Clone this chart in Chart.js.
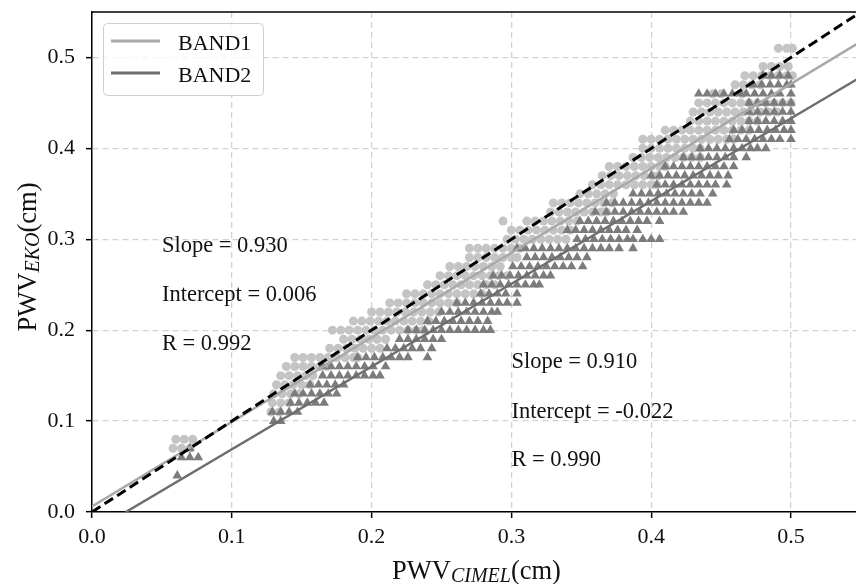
<!DOCTYPE html>
<html><head><meta charset="utf-8">
<script src="https://cdn.jsdelivr.net/npm/chart.js@4.4.0/dist/chart.umd.min.js"></script>
<style>html,body{margin:0;padding:0;background:#fff;overflow:hidden}canvas{display:block}</style>
</head><body>
<canvas id="c" width="856" height="584"></canvas>
<script>
// ---------------- data ----------------
const seriesNames = ['BAND1', 'BAND2'];
const xTickValues = [0.0, 0.1, 0.2, 0.3, 0.4, 0.5];
const yTickValues = [0.0, 0.1, 0.2, 0.3, 0.4, 0.5];

// each row: [PWV_EKO level, PWV_CIMEL values ...]
const band1Rows = [
  [0.07, 0.058,0.064,0.070],
  [0.08, 0.060,0.066,0.072],
  [0.11, 0.128,0.134],
  [0.12, 0.129,0.135,0.141],
  [0.13, 0.130,0.136,0.142,0.148],
  [0.14, 0.132,0.138,0.144,0.150,0.156],
  [0.15, 0.135,0.141,0.147,0.153,0.158],
  [0.16, 0.139,0.145,0.151,0.157,0.163,0.168],
  [0.17, 0.145,0.151,0.157,0.163,0.169,0.175,0.181,0.187,0.190],
  [0.18, 0.170,0.176,0.182,0.188,0.194,0.200,0.206],
  [0.19, 0.180,0.186,0.192,0.198,0.204,0.210],
  [0.20, 0.172,0.178,0.184,0.190,0.196,0.202,0.208,0.214,0.220,0.226,0.232,0.237],
  [0.21, 0.187,0.193,0.199,0.205,0.211,0.217,0.223,0.229,0.235,0.241],
  [0.22, 0.200,0.206,0.212,0.218,0.224,0.230,0.236,0.242,0.248],
  [0.23, 0.213,0.219,0.225,0.231,0.237,0.243,0.249,0.255,0.261],
  [0.24, 0.225,0.231,0.237,0.243,0.249,0.255,0.261,0.267,0.273,0.279],
  [0.25, 0.240,0.246,0.252,0.258,0.264,0.270,0.276,0.282,0.288],
  [0.26, 0.249,0.255,0.261,0.267,0.273,0.279,0.285,0.291,0.297],
  [0.27, 0.256,0.262,0.268,0.274,0.280,0.286,0.292],
  [0.28, 0.270,0.276,0.282,0.288,0.294,0.300,0.304],
  [0.29, 0.270,0.276,0.282,0.288,0.294,0.300,0.306],
  [0.30, 0.297,0.303,0.309,0.315,0.321,0.327,0.333,0.339],
  [0.31, 0.300,0.306,0.312,0.318,0.324,0.330,0.336,0.342],
  [0.32, 0.294,0.311,0.317,0.323,0.329,0.335,0.341,0.347],
  [0.33, 0.328,0.334,0.340,0.346,0.352,0.358,0.364,0.368],
  [0.34, 0.330,0.336,0.342,0.348,0.354,0.360,0.366,0.372],
  [0.35, 0.349,0.355,0.361,0.367,0.373],
  [0.36, 0.358,0.364,0.370,0.376,0.382,0.388,0.394,0.400,0.404],
  [0.37, 0.365,0.371,0.377,0.383,0.389,0.395,0.401,0.405],
  [0.38, 0.370,0.376,0.382,0.388,0.394,0.400,0.406,0.410],
  [0.39, 0.387,0.393,0.399,0.405,0.411,0.417,0.423,0.429,0.435],
  [0.40, 0.394,0.400,0.406,0.412,0.418,0.424,0.430,0.435],
  [0.41, 0.394,0.400,0.406,0.412,0.418,0.424,0.430,0.436,0.442,0.448,0.454,0.459],
  [0.42, 0.410,0.416,0.422,0.428,0.434,0.440,0.446,0.452,0.458,0.464,0.470],
  [0.43, 0.428,0.434,0.440,0.446,0.452,0.458,0.464,0.470,0.476],
  [0.44, 0.430,0.436,0.442,0.448,0.454,0.460,0.466,0.472,0.478,0.484,0.490],
  [0.45, 0.434,0.440,0.446,0.452,0.458,0.464,0.470,0.476,0.482,0.488,0.494,0.500],
  [0.46, 0.444,0.450,0.465],
  [0.47, 0.460,0.466,0.472,0.478],
  [0.48, 0.467,0.473,0.479,0.485,0.491,0.497,0.501],
  [0.49, 0.480,0.486,0.492,0.498],
  [0.51, 0.491,0.497,0.501]
];

const band2Rows = [
  [0.04, 0.061],
  [0.06, 0.064,0.070,0.076],
  [0.07, 0.070],
  [0.10, 0.130,0.135],
  [0.11, 0.129,0.135,0.141,0.147],
  [0.12, 0.142,0.148,0.154,0.160,0.166],
  [0.13, 0.145,0.151,0.157,0.163,0.169,0.175],
  [0.14, 0.156,0.162,0.168,0.174,0.180],
  [0.15, 0.165,0.171,0.177,0.183,0.189,0.195,0.201,0.206],
  [0.16, 0.165,0.171,0.177,0.183,0.189,0.195,0.201,0.210],
  [0.17, 0.190,0.196,0.202,0.208,0.214,0.220,0.226,0.240],
  [0.18, 0.211,0.217,0.223,0.229,0.235,0.243],
  [0.19, 0.220,0.226,0.232,0.238,0.244,0.250],
  [0.20, 0.226,0.232,0.238,0.244,0.250,0.256,0.262,0.268,0.274,0.280,0.285],
  [0.21, 0.240,0.246,0.252,0.258,0.264,0.270,0.276,0.283],
  [0.22, 0.250,0.256,0.262,0.268,0.274,0.280,0.286,0.290],
  [0.23, 0.261,0.267,0.273,0.279,0.285,0.291,0.297,0.304],
  [0.24, 0.278,0.284,0.290,0.296,0.304],
  [0.25, 0.280,0.286,0.292,0.298,0.304,0.310,0.316,0.320],
  [0.26, 0.287,0.293,0.299,0.305,0.311,0.317,0.323,0.328],
  [0.27, 0.301,0.307,0.313,0.319,0.325,0.331,0.337,0.343,0.351],
  [0.28, 0.311,0.317,0.323,0.329,0.335,0.341,0.347,0.354],
  [0.29, 0.304,0.310,0.316,0.322,0.328,0.334,0.340,0.346,0.352,0.358,0.364,0.370,0.377,0.387],
  [0.30, 0.347,0.353,0.359,0.365,0.371,0.377,0.383,0.387,0.394,0.400,0.406],
  [0.31, 0.340,0.346,0.352,0.358,0.364,0.370,0.376,0.382,0.390],
  [0.32, 0.349,0.355,0.361,0.367,0.373,0.379,0.385,0.391,0.397,0.406],
  [0.33, 0.360,0.368,0.374,0.380,0.386,0.392,0.398,0.404,0.410,0.416,0.423],
  [0.34, 0.368,0.374,0.380,0.386,0.392,0.398,0.404,0.410,0.416,0.422,0.428,0.434,0.440],
  [0.35, 0.387,0.393,0.399,0.405,0.411,0.417,0.423,0.429,0.435,0.444],
  [0.36, 0.404,0.410,0.416,0.422,0.428,0.434,0.440,0.446,0.454],
  [0.37, 0.400,0.406,0.412,0.418,0.424,0.430,0.436,0.442,0.448,0.455],
  [0.38, 0.410,0.416,0.422,0.428,0.434,0.440,0.446,0.452,0.459],
  [0.39, 0.423,0.429,0.435,0.441,0.447,0.453,0.459,0.468],
  [0.40, 0.435,0.441,0.447,0.453,0.459,0.465,0.471,0.476,0.482],
  [0.41, 0.456,0.462,0.468,0.474,0.480,0.486,0.492,0.500],
  [0.42, 0.459,0.465,0.471,0.477,0.483,0.489,0.495,0.500],
  [0.43, 0.470,0.476,0.482,0.488,0.494,0.500],
  [0.44, 0.470,0.476,0.482,0.488,0.494,0.500],
  [0.45, 0.470,0.476,0.482,0.488,0.494,0.500],
  [0.46, 0.434,0.440,0.446,0.452,0.458,0.464,0.468,0.474,0.480,0.486,0.492,0.500],
  [0.47, 0.473,0.479,0.485,0.491,0.497,0.500],
  [0.48, 0.480,0.486,0.492,0.498]
];

// fitted lines (end points) and 1:1 reference line
const oneToOneLine = [[0, 0], [0.55, 0.55]];
const band1FitLine = [[0, 0.006], [0.55, 0.5175]];
const band2FitLine = [[0.0242, 0], [0.55, 0.4785]];

const band1Stats = ['Slope = 0.930', 'Intercept = 0.006', 'R = 0.992'];
const band2Stats = ['Slope = 0.910', 'Intercept = -0.022', 'R = 0.990'];

// ---------------- build ----------------
const rowsToPoints = rows => rows.flatMap(r => r.slice(1).map(x => ({x: x, y: r[0]})));
const pairsToPoints = p => p.map(([x, y]) => ({x, y}));

const SERIF = '"Liberation Serif", "Times New Roman", serif';
const C1_LINE = '#a9a9a9', C1_PT = '#c4c4c4';
const C2_LINE = '#6e6e6e', C2_PT = '#7c7c7c';

function drawRich(ctx, parts, cx, baseY) {
  let total = 0;
  parts.forEach(p => { ctx.font = p.font; p.w = ctx.measureText(p.text).width; total += p.w; });
  let xx = cx - total / 2;
  ctx.textAlign = 'left';
  ctx.textBaseline = 'alphabetic';
  parts.forEach(p => { ctx.font = p.font; ctx.fillText(p.text, xx, baseY + (p.dy || 0)); xx += p.w; });
}

const decor = {
  id: 'decor',
  afterDraw(chart) {
    const {ctx, chartArea: a, scales: {x, y}} = chart;
    ctx.save();
    // top spine
    ctx.strokeStyle = '#000'; ctx.lineWidth = 1.5;
    ctx.beginPath(); ctx.moveTo(a.left - 0.75, a.top); ctx.lineTo(chart.width, a.top); ctx.stroke();

    // legend
    ctx.beginPath();
    ctx.roundRect(103.5, 23.5, 160, 72, 4);
    ctx.fillStyle = 'rgba(255,255,255,0.8)'; ctx.fill();
    ctx.strokeStyle = '#cfcfcf'; ctx.lineWidth = 1; ctx.stroke();
    const legendColors = [C1_LINE, C2_LINE];
    seriesNames.forEach((n, i) => {
      const ly = 41 + i * 32;
      ctx.strokeStyle = legendColors[i]; ctx.lineWidth = 3;
      ctx.beginPath(); ctx.moveTo(111, ly); ctx.lineTo(160, ly); ctx.stroke();
      ctx.fillStyle = '#111'; ctx.font = '22px ' + SERIF;
      ctx.textAlign = 'left'; ctx.textBaseline = 'alphabetic';
      ctx.fillText(n, 178, ly + 9);
    });

    // statistics text
    ctx.fillStyle = '#111'; ctx.font = '22.5px ' + SERIF;
    ctx.textAlign = 'left'; ctx.textBaseline = 'alphabetic';
    const s1y = [0.286, 0.232, 0.178], s2y = [0.158, 0.103, 0.051];
    band1Stats.forEach((t, i) => ctx.fillText(t, x.getPixelForValue(0.05), y.getPixelForValue(s1y[i])));
    band2Stats.forEach((t, i) => ctx.fillText(t, x.getPixelForValue(0.30), y.getPixelForValue(s2y[i])));

    // axis titles with subscripts
    const main = '26.5px ' + SERIF, sub = 'italic 20px ' + SERIF;
    ctx.fillStyle = '#111';
    drawRich(ctx, [{text: 'PWV', font: main}, {text: 'CIMEL', font: sub, dy: 3}, {text: '(cm)', font: main}],
      x.getPixelForValue(0.275), 579);
    ctx.translate(36, 257);
    ctx.rotate(-Math.PI / 2);
    drawRich(ctx, [{text: 'PWV', font: main}, {text: 'EKO', font: sub, dy: 3}, {text: '(cm)', font: main}], 0, 0);
    ctx.restore();
  }
};

const axisCommon = (vals) => ({
  type: 'linear',
  min: 0,
  ticks: {
    includeBounds: false,
    color: '#111',
    font: {family: SERIF, size: 22, lineHeight: 1.2},
    callback: v => Number(v).toFixed(1)
  },
  afterBuildTicks: s => { s.ticks = vals.map(v => ({value: v})); },
  grid: {color: '#d2d2d2', lineWidth: 1.3, tickColor: '#000', tickLength: 6, tickWidth: 1.5, tickBorderDash: []},
  border: {display: true, color: '#000', width: 1.5, dash: [6, 4]}
});

const xAxis = Object.assign(axisCommon(xTickValues), {max: 0.5465,
  afterFit: s => { s.height = 72; s.paddingRight = 0; s.paddingLeft = 0; }});
xAxis.ticks.padding = 6;
const yAxis = Object.assign(axisCommon(yTickValues), {max: 0.55,
  afterFit: s => { s.width = 92; s.paddingTop = 0; s.paddingBottom = 0; }});
yAxis.ticks.padding = 11;

new Chart(document.getElementById('c'), {
  type: 'scatter',
  data: {
    datasets: [
      {label: '1:1', data: pairsToPoints(oneToOneLine), showLine: true, borderColor: '#000', borderWidth: 3,
        borderDash: [10, 5], pointRadius: 0, fill: false},
      {label: seriesNames[1] + ' fit', data: pairsToPoints(band2FitLine), showLine: true, borderColor: C2_LINE,
        borderWidth: 2.5, pointRadius: 0, fill: false},
      {label: seriesNames[0] + ' fit', data: pairsToPoints(band1FitLine), showLine: true, borderColor: C1_LINE,
        borderWidth: 2.5, pointRadius: 0, fill: false},
      {label: seriesNames[1], data: rowsToPoints(band2Rows), pointStyle: 'triangle', pointRadius: 5.6,
        backgroundColor: C2_PT, borderWidth: 0, pointHoverRadius: 5.6},
      {label: seriesNames[0], data: rowsToPoints(band1Rows), pointStyle: 'circle', pointRadius: 4.5,
        backgroundColor: C1_PT, borderWidth: 0, pointHoverRadius: 4.5}
    ]
  },
  options: {
    responsive: false,
    animation: false,
    devicePixelRatio: 1,
    layout: {autoPadding: false, padding: {top: 12, right: 0, left: 0, bottom: 0}},
    plugins: {legend: {display: false}, tooltip: {enabled: false}},
    scales: {x: xAxis, y: yAxis}
  },
  plugins: [decor]
});
</script>
</body></html>
